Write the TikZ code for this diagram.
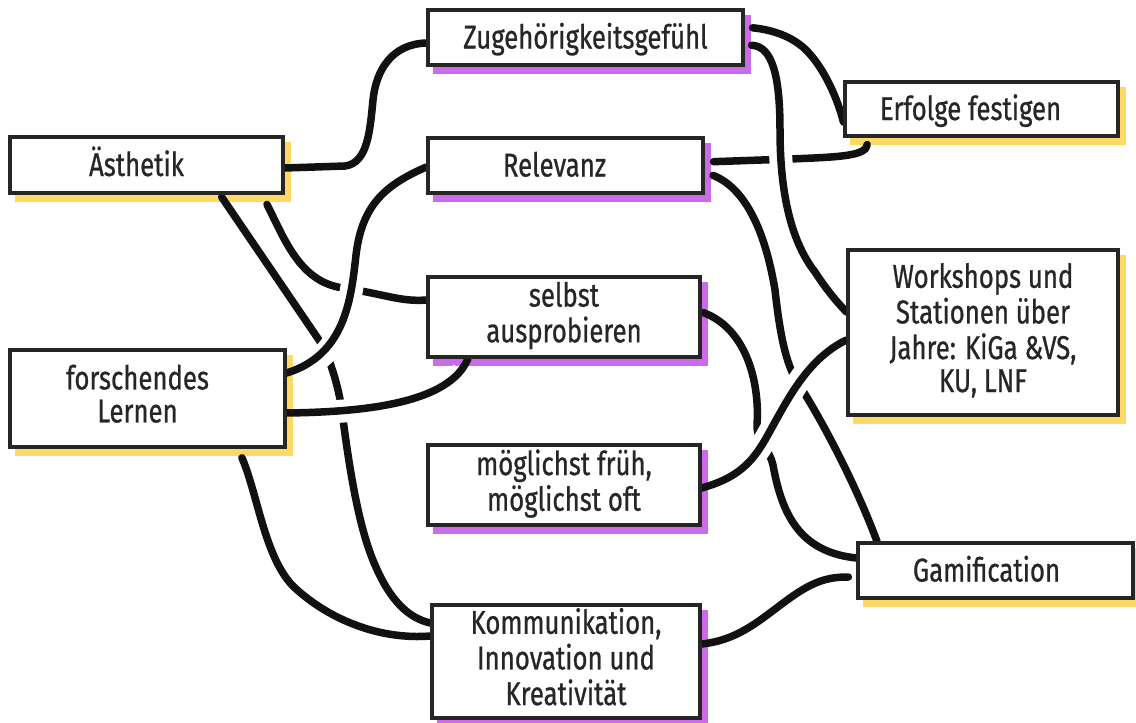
\documentclass[tikz,border=0pt]{standalone}
\usepackage{fontspec}
\setmainfont[FakeStretch=0.78, FakeBold=0.7]{Fira Sans}
\pgfdeclarelayer{shadowlayer}
\pgfdeclarelayer{linelayer}
\pgfsetlayers{shadowlayer,linelayer,main}
\definecolor{hlyellow}{HTML}{FFD966}
\definecolor{hlpurple}{HTML}{CC6BE6}
\definecolor{ink}{HTML}{111111}
\definecolor{boxline}{HTML}{262626}
\newcommand\mylines[1]{\begin{tabular}{@{}c@{}}#1\end{tabular}}
\begin{document}
\begin{tikzpicture}[x=1pt,y=-1pt,
  box/.style={draw=boxline, line width=3.2pt, fill=white, rectangle, inner sep=0pt,
    font=\fontsize{33}{33}\selectfont, text=boxline},
  single/.style={text height=22pt, text depth=0pt},
  conn/.style={draw=ink, line width=7.5pt, line cap=round},
  over/.style={conn, preaction={draw=white, line width=23pt, line cap=butt, shorten <=12pt, shorten >=12pt}},
]
\useasboundingbox (0,0) rectangle (1136,723);

% nodes
\node[box, single, minimum width=273, minimum height=56] (aes) at (146.5,165) {Ästhetik\hspace*{20pt}};
\node[box, single, minimum width=315, minimum height=55] (zug) at (585.5,37.5) {Zugehörigkeitsgefühl};
\node[box, single, minimum width=275, minimum height=55] (rel) at (565.5,165.5) {Relevanz\hspace*{22pt}};
\node[box, minimum width=272, minimum height=80] (sel) at (564,317) {\mylines{selbst\\ausprobieren}};
\node[box, minimum width=272, minimum height=80] (mog) at (564,485) {\mylines{möglichst früh,\\möglichst oft}};
\node[box, minimum width=268, minimum height=113] (kom) at (566,661.5) {\mylines{Kommunikation,\\Innovation und\\Kreativität}};
\node[box, minimum width=275, minimum height=97] (for) at (147.5,398.5) {\raisebox{-3pt}{\mylines{forschendes\\Lernen}}\hspace*{20pt}};
\node[box, single, minimum width=273, minimum height=54] (erf) at (981.5,109) {Erfolge festigen\hspace*{22pt}};
\node[box, minimum width=270, minimum height=165] (work) at (983,332.5) {\mylines{Workshops und\\Stationen über\\Jahre: KiGa \&VS,\\KU, LNF}};
\node[box, single, minimum width=275, minimum height=55] (gam) at (995.5,570.5) {Gamification\hspace*{18pt}};

% shadows
\begin{pgfonlayer}{shadowlayer}
\foreach \n/\c in {aes/hlyellow, for/hlyellow, erf/hlyellow, work/hlyellow, gam/hlyellow,
                   zug/hlpurple, rel/hlpurple, sel/hlpurple, mog/hlpurple, kom/hlpurple}
  \fill[\c] ([shift={(7,7)}]\n.north west) rectangle ([shift={(6,7)}]\n.south east);
\end{pgfonlayer}

% connectors
\begin{pgfonlayer}{linelayer}
% lines that pass under others
\draw[conn] (aes.east |- 0,168) -- (345,166) .. controls (368,163) and (370,130) .. (373,100)
  .. controls (376,70) and (392,44) .. (zug.west |- 0,43);
\draw[conn, shorten <=11pt] (aes.south -| 262,0) .. controls (285,240) and (300,282) .. (343,288)
  .. controls (385,294) and (400,302) .. (sel.west |- 0,300);
\draw[conn, shorten <=3pt] (aes.south -| 220,0) -- (321,343) .. controls (328,355) and (337,380) .. (341,405)
  .. controls (346,440) and (355,520) .. (375,565) .. controls (390,600) and (408,618) .. (kom.west |- 0,623);
\draw[conn, shorten <=10pt] (for.south -| 238,0) .. controls (258,495) and (265,560) .. (295,588)
  .. controls (330,620) and (380,640) .. (kom.west |- 0,636);
\draw[conn, shorten <=8pt] (zug.east |- 0,27) .. controls (775,30) and (795,38) .. (808,52)
  .. controls (825,70) and (838,100) .. (erf.west |- 0,122);
\draw[conn, shorten <=9pt, shorten >=7pt] (rel.east |- 0,162) -- (790,159)
  .. controls (840,157) and (866,156) .. (erf.south -| 868,0);
\draw[conn, shorten <=9pt] (rel.east |- 0,172) .. controls (745,188) and (765,230) .. (775,290)
  .. controls (780,335) and (786,365) .. (798,383) .. controls (825,425) and (858,490) .. (gam.north -| 877,0);
\draw[conn, shorten <=2pt] (sel.east |- 0,312) .. controls (745,328) and (760,380) .. (757,425)
  .. controls (756,440) and (770,450) .. (773,465) .. controls (782,515) and (800,552) .. (gam.west |- 0,558);
\draw[conn, shorten >=8pt] (kom.east |- 0,644) .. controls (740,640) and (762,618) .. (790,598)
  .. controls (815,580) and (830,577) .. (gam.west |- 0,577);
% lines that pass over others
\draw[over] (rel.west |- 0,167) .. controls (385,185) and (362,205) .. (356,255)
  .. controls (351,300) and (345,355) .. (for.east |- 0,373);
\draw[over] (for.east |- 0,413) .. controls (370,412) and (450,402) .. (sel.south -| 468,0);
\draw[over, shorten <=7pt] (zug.east |- 0,45) .. controls (772,46) and (780,75) .. (780,130)
  .. controls (780,190) and (790,240) .. (815,272) .. controls (828,292) and (838,303) .. (work.west |- 0,312);
\draw[over] (mog.east |- 0,488) .. controls (738,478) and (752,462) .. (765,440)
  .. controls (785,405) and (805,360) .. (work.west |- 0,340);
\end{pgfonlayer}
\end{tikzpicture}
\end{document}
